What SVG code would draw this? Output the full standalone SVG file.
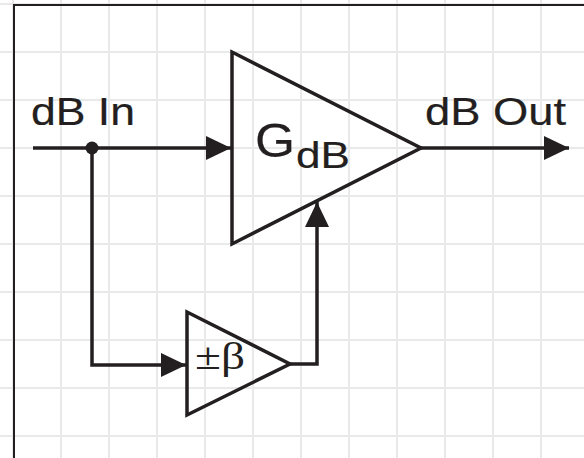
<svg xmlns="http://www.w3.org/2000/svg" width="584" height="458" viewBox="0 0 584 458">
<style>
.grid{stroke:#e9e9ea;stroke-width:2;fill:none}
.frame{stroke:#231f20;stroke-width:2;fill:none}
.wire{stroke:#231f20;stroke-width:3.5;fill:none;stroke-linejoin:miter}
.amp{stroke:#231f20;stroke-width:3.5;fill:none;stroke-linejoin:miter}
.lbl{font-family:"Liberation Sans",Arial,sans-serif;fill:#231f20;stroke:#231f20;stroke-width:0.2}
.sym{font-family:"Liberation Serif","Times New Roman",serif;fill:#231f20}
</style>
<defs>
<marker id="arr" markerUnits="userSpaceOnUse" markerWidth="25" markerHeight="24" viewBox="0 0 25 24" refX="25" refY="12" orient="auto">
<path d="M0,0 L25,12 L0,24 z" fill="#231f20"/>
</marker>
</defs>
<rect width="584" height="458" fill="#ffffff"/>
<g id="grid" class="grid">
<path d="M13,0V458M61,0V458M109,0V458M157,0V458M205,0V458M253,0V458M301,0V458M349,0V458M397,0V458M445,0V458M493,0V458M541,0V458"/>
<path d="M0,4H584M0,52H584M0,100H584M0,148H584M0,196H584M0,244H584M0,292H584M0,340H584M0,388H584M0,436H584"/>
</g>
<g id="frame" class="frame">
<path d="M14,458V5H584"/>
</g>
<g id="connectors">
<path class="wire" d="M33,148H231" marker-end="url(#arr)"/>
<path class="wire" d="M421,148H569" marker-end="url(#arr)"/>
<path class="wire" d="M92,148V365H186" marker-end="url(#arr)"/>
<path class="wire" d="M290,364H317V202" marker-end="url(#arr)"/>
<circle cx="92" cy="148" r="6.5" fill="#231f20"/>
</g>
<g id="gain">
<path class="amp" d="M232,52V244L421,148Z"/>
<text class="lbl" x="255" y="157" font-size="48" textLength="40" lengthAdjust="spacingAndGlyphs">G</text>
<text class="lbl" x="296" y="168" font-size="37" textLength="54" lengthAdjust="spacingAndGlyphs">dB</text>
</g>
<g id="beta">
<path class="amp" d="M187,312V415L290,364Z"/>
<text class="sym" x="195" y="369" font-size="38" textLength="50" lengthAdjust="spacingAndGlyphs">±β</text>
</g>
<g id="in-label">
<text class="lbl" x="31" y="125" font-size="38" textLength="104" lengthAdjust="spacingAndGlyphs">dB In</text>
</g>
<g id="out-label">
<text class="lbl" x="425" y="125" font-size="38" textLength="141" lengthAdjust="spacingAndGlyphs">dB Out</text>
</g>
</svg>
